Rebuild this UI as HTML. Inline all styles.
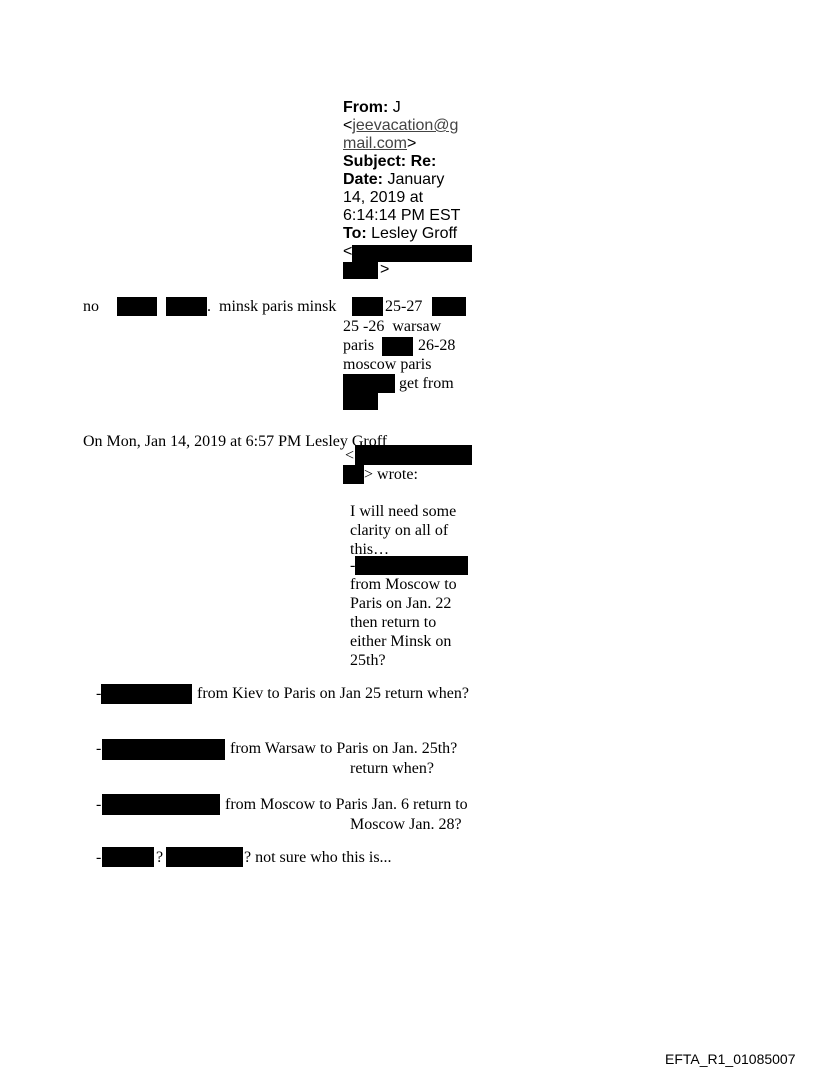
<!DOCTYPE html>
<html><head><meta charset="utf-8"><style>
body{margin:0;width:816px;height:1073px;background:#fff;position:relative;overflow:hidden}
.a{position:absolute;white-space:nowrap;font-family:"Liberation Sans",Arial,sans-serif;font-size:16px;line-height:18px;color:#000}
.s{position:absolute;white-space:nowrap;font-family:"Liberation Serif","Times New Roman",serif;font-size:16px;line-height:19px;color:#000}
.b{position:absolute;background:#000}
u{color:#444}
</style></head><body>
<div class="a" style="left:343px;top:99px"><b>From:</b> J</div>
<div class="a" style="left:343px;top:117px">&lt;<u>jeevacation@g</u></div>
<div class="a" style="left:343px;top:135px"><u>mail.com</u>&gt;</div>
<div class="a" style="left:343px;top:153px"><b>Subject: Re:</b></div>
<div class="a" style="left:343px;top:171px"><b>Date:</b> January</div>
<div class="a" style="left:343px;top:189px">14, 2019 at</div>
<div class="a" style="left:343px;top:207px">6:14:14 PM EST</div>
<div class="a" style="left:343px;top:225px"><b>To:</b> Lesley Groff</div>
<div class="a" style="left:343px;top:243px">&lt;</div>
<div class="b" style="left:352px;top:245px;width:120px;height:17px"></div>
<div class="b" style="left:343px;top:262px;width:35px;height:17px"></div>
<div class="a" style="left:380px;top:261px">&gt;</div>

<div class="s" style="left:83px;top:297px">no</div>
<div class="b" style="left:117px;top:297px;width:40px;height:19px"></div>
<div class="b" style="left:166px;top:297px;width:41px;height:19px"></div>
<div class="s" style="left:207px;top:297px">.&nbsp; minsk paris minsk</div>
<div class="b" style="left:352px;top:297px;width:31px;height:19px"></div>
<div class="s" style="left:385px;top:297px">25-27</div>
<div class="b" style="left:432px;top:297px;width:34px;height:19px"></div>
<div class="s" style="left:343px;top:317px">25 -26&nbsp; warsaw</div>
<div class="s" style="left:343px;top:336px">paris</div>
<div class="b" style="left:382px;top:337px;width:31px;height:19px"></div>
<div class="s" style="left:418px;top:336px">26-28</div>
<div class="s" style="left:343px;top:355px">moscow paris</div>
<div class="b" style="left:343px;top:374px;width:52px;height:19px"></div>
<div class="s" style="left:399px;top:374px">get from</div>
<div class="b" style="left:343px;top:393px;width:35px;height:17px"></div>

<div class="s" style="left:83px;top:432px">On Mon, Jan 14, 2019 at 6:57 PM Lesley Groff</div>
<div class="s" style="left:345px;top:446px">&lt;</div>
<div class="b" style="left:355px;top:445px;width:117px;height:20px"></div>
<div class="b" style="left:343px;top:465px;width:21px;height:19px"></div>
<div class="s" style="left:364px;top:465px">&gt; wrote:</div>
<div class="s" style="left:350px;top:502px">I will need some</div>
<div class="s" style="left:350px;top:521px">clarity on all of</div>
<div class="s" style="left:350px;top:540px">this…</div>
<div class="s" style="left:350px;top:556px">-</div>
<div class="b" style="left:355px;top:556px;width:113px;height:19px"></div>
<div class="s" style="left:350px;top:575px">from Moscow to</div>
<div class="s" style="left:350px;top:594px">Paris on Jan. 22</div>
<div class="s" style="left:350px;top:613px">then return to</div>
<div class="s" style="left:350px;top:632px">either Minsk on</div>
<div class="s" style="left:350px;top:651px">25th?</div>

<div class="s" style="left:96px;top:684px">-</div>
<div class="b" style="left:101px;top:684px;width:91px;height:20px"></div>
<div class="s" style="left:197px;top:684px">from Kiev to Paris on Jan 25 return when?</div>

<div class="s" style="left:96px;top:739px">-</div>
<div class="b" style="left:102px;top:739px;width:123px;height:21px"></div>
<div class="s" style="left:230px;top:739px">from Warsaw to Paris on Jan. 25th?</div>
<div class="s" style="left:350px;top:759px">return when?</div>

<div class="s" style="left:96px;top:795px">-</div>
<div class="b" style="left:102px;top:794px;width:118px;height:21px"></div>
<div class="s" style="left:225px;top:795px">from Moscow to Paris Jan. 6 return to</div>
<div class="s" style="left:350px;top:815px">Moscow Jan. 28?</div>

<div class="s" style="left:96px;top:848px">-</div>
<div class="b" style="left:102px;top:847px;width:52px;height:20px"></div>
<div class="s" style="left:156px;top:848px">?</div>
<div class="b" style="left:166px;top:847px;width:77px;height:20px"></div>
<div class="s" style="left:244px;top:848px">? not sure who this is...</div>

<div class="a" style="left:665px;top:1051px;font-size:14px;line-height:16px">EFTA_R1_01085007</div>
</body></html>
